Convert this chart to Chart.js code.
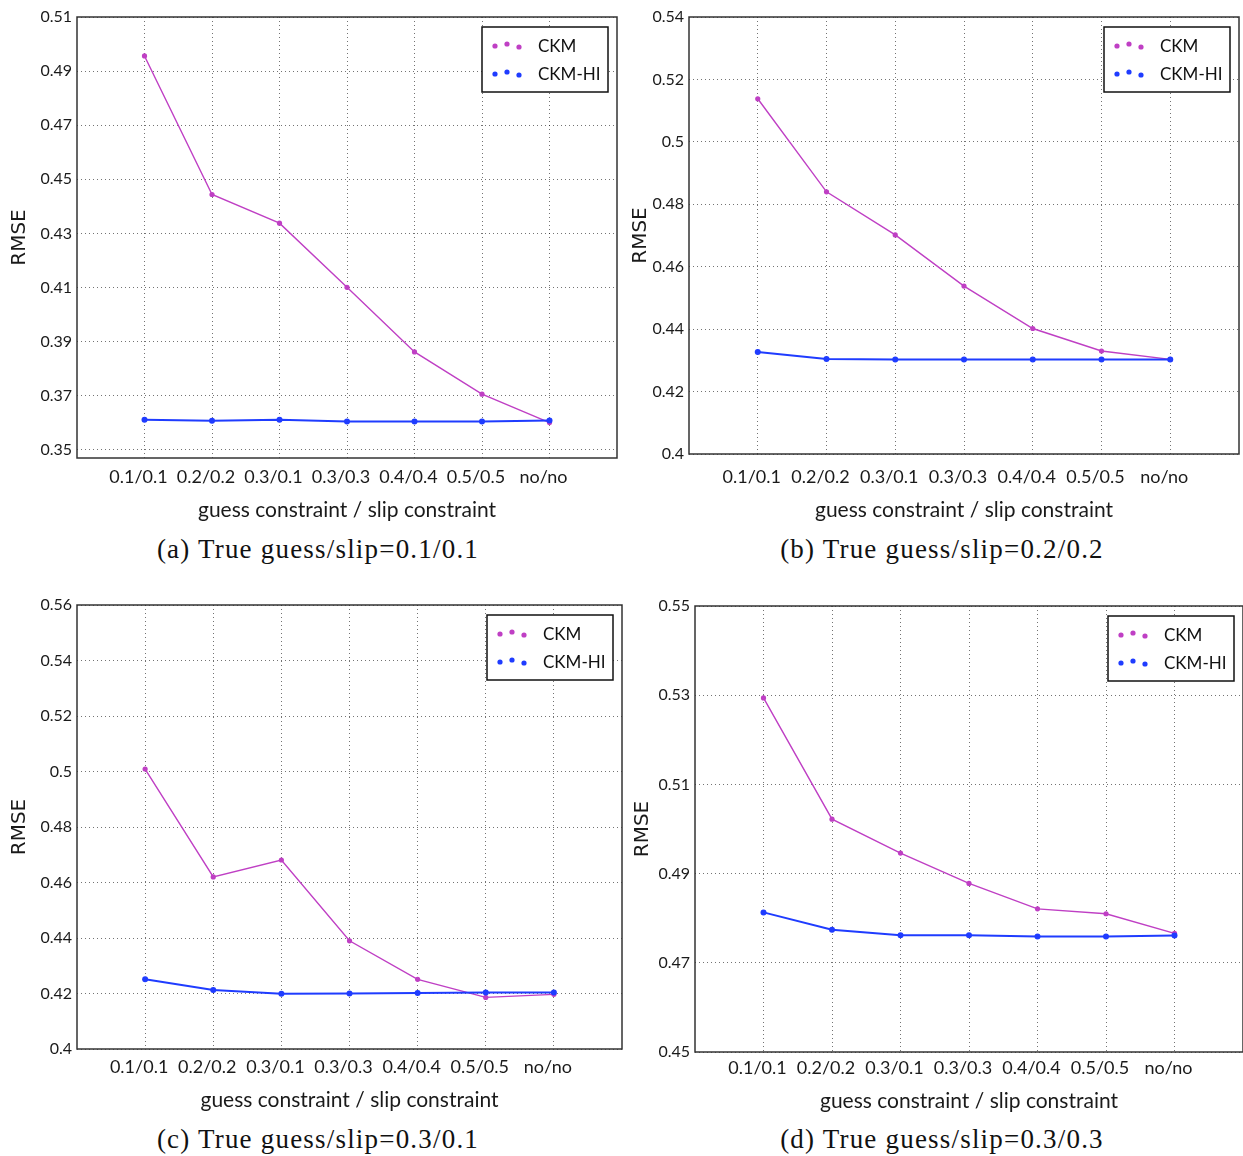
<!DOCTYPE html>
<html>
<head>
<meta charset="utf-8">
<script src="https://cdn.jsdelivr.net/npm/chart.js@4.4.1/dist/chart.umd.min.js"></script>
<style>
body { margin: 0; background: #fff; width: 1243px; height: 1156px; overflow: hidden; position: relative; }
canvas { position: absolute; }
.cap { position: absolute; font-family: "Liberation Serif", serif; font-size: 27px; letter-spacing: 1.2px; color: #111;
       transform: translate(-50%, -50%); white-space: nowrap; }
</style>
</head>
<body>
<canvas id="ca"></canvas>
<canvas id="cb"></canvas>
<canvas id="cc"></canvas>
<canvas id="cd"></canvas>
<script>
// data
var categories = ["0.1/0.1", "0.2/0.2", "0.3/0.1", "0.3/0.3", "0.4/0.4", "0.5/0.5", "no/no"];
var seriesNames = ["CKM", "CKM-HI"];

var ckmA   = [0.4956, 0.4444, 0.4338, 0.4101, 0.3862, 0.3706, 0.3601];
var ckmHiA = [0.3611, 0.3608, 0.3611, 0.3605, 0.3605, 0.3605, 0.3609];
var ckmB   = [0.5138, 0.4840, 0.4702, 0.4538, 0.4402, 0.4330, 0.4303];
var ckmHiB = [0.4327, 0.4304, 0.4303, 0.4303, 0.4303, 0.4303, 0.4303];
var ckmC   = [0.5009, 0.4620, 0.4681, 0.4390, 0.4251, 0.4186, 0.4197];
var ckmHiC = [0.4251, 0.4213, 0.4199, 0.4200, 0.4202, 0.4204, 0.4204];
var ckmD   = [0.5294, 0.5022, 0.4946, 0.4878, 0.4821, 0.4810, 0.4766];
var ckmHiD = [0.4813, 0.4774, 0.4762, 0.4762, 0.4759, 0.4759, 0.4761];

var yTicksA = [0.35, 0.37, 0.39, 0.41, 0.43, 0.45, 0.47, 0.49, 0.51];
var yTicksB = [0.4, 0.42, 0.44, 0.46, 0.48, 0.5, 0.52, 0.54];
var yTicksC = [0.4, 0.42, 0.44, 0.46, 0.48, 0.5, 0.52, 0.54, 0.56];
var yTicksD = [0.45, 0.47, 0.49, 0.51, 0.53, 0.55];
var yRangeA = [0.347, 0.51];
var yRangeB = [0.4, 0.54];
var yRangeC = [0.4, 0.56];
var yRangeD = [0.45, 0.55];

var captions = ["(a) True guess/slip=0.1/0.1", "(b) True guess/slip=0.2/0.2",
                "(c) True guess/slip=0.3/0.1", "(d) True guess/slip=0.3/0.3"];
var xTitle = "guess constraint / slip constraint";
var yTitle = "RMSE";

// page layout of each panel (canvas box, plot area, caption centre)
var panels = [
  { id: "ca", ckm: ckmA, hi: ckmHiA, ticks: yTicksA, range: yRangeA,
    x: 0, y: 0, w: 621, h: 523, l: 77, t: 17, r: 619, b: 458, tickPad: 8, yPad: 8, capX: 318, capY: 549 },
  { id: "cb", ckm: ckmB, hi: ckmHiB, ticks: yTicksB, range: yRangeB,
    x: 621, y: 0, w: 622, h: 523, l: 689, t: 17, r: 1242, b: 454, tickPad: 12, yPad: 8, capX: 942, capY: 549 },
  { id: "cc", ckm: ckmC, hi: ckmHiC, ticks: yTicksC, range: yRangeC,
    x: 0, y: 590, w: 626, h: 523, l: 77, t: 605, r: 623, b: 1049, tickPad: 7, yPad: 8, capX: 318, capY: 1139 },
  { id: "cd", ckm: ckmD, hi: ckmHiD, ticks: yTicksD, range: yRangeD,
    x: 621, y: 590, w: 626, h: 524, l: 695, t: 606, r: 1245, b: 1052, tickPad: 5, yPad: 10, capX: 942, capY: 1139 }
];

var magenta = "#bf3fc4";
var blue = "#1f3cff";

Chart.defaults.color = "#1a1a1a";

// frame around the plot + matplotlib-like legend box inside the axes
var frameLegend = {
  id: "frameLegend",
  afterDatasetsDraw: function(chart) {
    var ctx = chart.ctx, a = chart.chartArea;
    ctx.save();
    ctx.strokeStyle = "#333";
    ctx.lineWidth = 1.5;
    ctx.strokeRect(a.left, a.top, a.right - a.left, a.bottom - a.top);

    var bw = 126, bh = 65;
    var bx = a.right - 9 - bw, by = a.top + 10;
    ctx.fillStyle = "#fff";
    ctx.fillRect(bx, by, bw, bh);
    ctx.strokeStyle = "#111";
    ctx.strokeRect(bx, by, bw, bh);
    chart.data.datasets.forEach(function(ds, i) {
      var cy = by + 19 + i * 28;
      [[13, 0], [25, -2], [37, 1]].forEach(function(d) {
        ctx.beginPath();
        ctx.arc(bx + d[0], cy + d[1], 2.6, 0, Math.PI * 2);
        ctx.fillStyle = ds.borderColor;
        ctx.fill();
      });
      ctx.fillStyle = "#111";
      ctx.font = "17px Lato";
      ctx.textBaseline = "middle";
      ctx.fillText(ds.label, bx + 56, cy + 1);
    });
    ctx.restore();
  }
};

function pts(vals) {
  return vals.map(function(v, i) { return { x: i, y: v }; });
}

panels.forEach(function(p, k) {
  var cv = document.getElementById(p.id);
  cv.width = p.w;
  cv.height = p.h;
  cv.style.left = p.x + "px";
  cv.style.top = p.y + "px";

  var cap = document.createElement("div");
  cap.className = "cap";
  cap.style.left = p.capX + "px";
  cap.style.top = p.capY + "px";
  cap.textContent = captions[k];
  document.body.appendChild(cap);

  new Chart(cv.getContext("2d"), {
    type: "line",
    data: {
      datasets: [{
        label: seriesNames[0],
        data: pts(p.ckm),
        borderColor: magenta,
        backgroundColor: magenta,
        borderWidth: 1.4,
        pointRadius: 2.6,
        pointBorderWidth: 0,
        order: 1
      }, {
        label: seriesNames[1],
        data: pts(p.hi),
        borderColor: blue,
        backgroundColor: blue,
        borderWidth: 2,
        pointRadius: 3,
        pointBorderWidth: 0,
        order: 0
      }]
    },
    options: {
      responsive: false,
      animation: false,
      layout: { padding: { top: p.t - p.y, right: p.x + p.w - p.r, left: 0, bottom: 0 } },
      plugins: { legend: { display: false }, tooltip: { enabled: false } },
      scales: {
        x: {
          type: "linear",
          min: -1,
          max: 7,
          afterBuildTicks: function(s) { s.ticks = categories.map(function(c, i) { return { value: i }; }); },
          afterFit: function(s) { s.height = p.y + p.h - p.b; },
          ticks: {
            font: { family: "Lato", size: 18 },
            padding: p.tickPad,
            labelOffset: -6,
            maxRotation: 0,
            autoSkip: false,
            callback: function(v) { return categories[v]; }
          },
          grid: { color: "rgba(0,0,0,0.55)", lineWidth: 1, drawTicks: false },
          border: { display: false, dash: [1, 3] },
          title: { display: true, text: xTitle, font: { family: "Lato", size: 21 }, padding: { top: 0, bottom: 0 } }
        },
        y: {
          min: p.range[0],
          max: p.range[1],
          afterBuildTicks: function(s) { s.ticks = p.ticks.map(function(v) { return { value: v }; }); },
          afterFit: function(s) { s.width = p.l - p.x; },
          ticks: {
            font: { family: "Lato", size: 16 },
            padding: 5,
            callback: function(v) { return String(+v.toFixed(2)); }
          },
          grid: { color: "rgba(0,0,0,0.55)", lineWidth: 1, drawTicks: false },
          border: { display: false, dash: [1, 3] },
          title: { display: true, text: yTitle, font: { family: "DejaVu Sans", size: 20 }, padding: { top: p.yPad, bottom: 0 } }
        }
      }
    },
    plugins: [frameLegend]
  });
});
</script>
</body>
</html>
